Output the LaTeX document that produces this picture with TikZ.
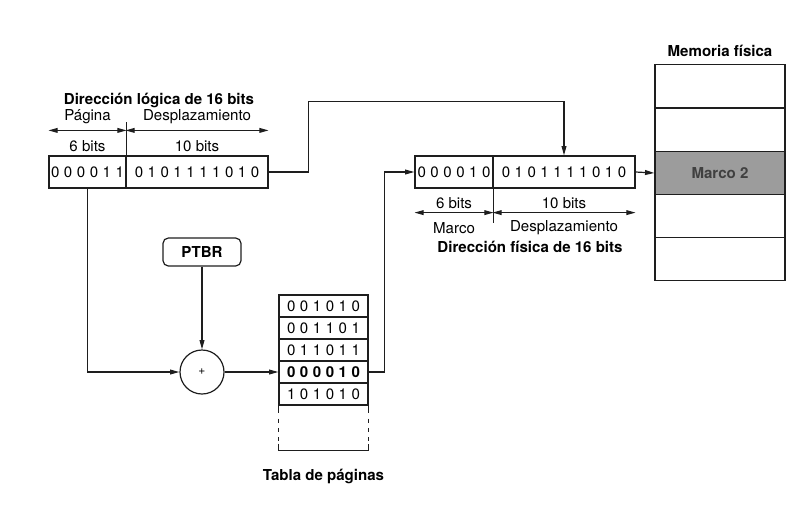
\documentclass[tikz,border=0pt]{standalone}
\usepackage{fontspec}
\setmainfont{TeX Gyre Heros}
\newfontfamily\bitfont[LetterSpace=30]{TeX Gyre Heros}
\usetikzlibrary{positioning, arrows.meta, calc}
\definecolor{inkblack}{HTML}{1E1E1E}
\definecolor{framegray}{HTML}{9C9C9C}
\tikzset{
  bit field/.style  = {rectangle, draw=inkblack, line width=0.9pt, minimum height=24pt,
                       inner sep=0pt, font=\bitfont\fontsize{11.3}{13}\selectfont},
  tab row/.style    = {bit field, minimum width=66.75pt, minimum height=16.5pt},
  mem cell/.style   = {rectangle, draw=inkblack, line width=0.9pt, minimum width=97.5pt,
                       minimum height=32.5pt, inner sep=0pt},
  title text/.style = {font=\bfseries\fontsize{11.3}{13}\selectfont},
  conn/.style       = {draw=inkblack, line width=0.9pt, -{Triangle[length=7pt, width=3.6pt]}},
  dim arrow/.style  = {draw=inkblack, line width=0.9pt,
                       {Triangle[length=7pt, width=3.6pt]}-{Triangle[length=7pt, width=3.6pt]}},
  plain line/.style = {draw=inkblack, line width=0.9pt},
}
\begin{document}
\begin{tikzpicture}[x=0.75pt, y=-0.75pt, font=\fontsize{11.3}{13}\selectfont]
\useasboundingbox (0,0) rectangle (809,512);

% =====================================================================
% Logical address
% =====================================================================
\node[title text] (ltitle) at (159,100) {Dirección lógica de 16 bits};
\node[bit field, minimum width=57.75pt]  (lpag) at (87.5,172) {000011};
\node[bit field, minimum width=106.5pt]  (ldes) at (197,172)  {0101111010};
\draw[plain line] (lpag.north east) -- ++(0,-33);

\node (lpagname) at (87.5,117) {Página};
\node (ldesname) at (197,117)  {Desplazamiento};
\draw[dim arrow] ($(lpag.north west)+(0,-25)$) -- ($(lpag.north east)+(0,-25)$);
\draw[dim arrow] ($(ldes.north west)+(0,-25)$) -- ($(ldes.north east)+(0,-25)$);
\node (lpagbits) at (87.5,146) {6 bits};
\node (ldesbits) at (197,146)  {10 bits};

% =====================================================================
% Physical address
% =====================================================================
\node[bit field, minimum width=58.5pt]  (fmar) at (454,172) {000010};
\node[bit field, minimum width=106.5pt] (fdes) at (564,172) {0101111010};
\draw[plain line] (fmar.south east) -- ++(0,34);

\node (fmarbits) at (454,203) {6 bits};
\node (fdesbits) at (564,203) {10 bits};
\draw[dim arrow] ($(fmar.south west)+(0,24)$) -- ($(fmar.south east)+(0,24)$);
\draw[dim arrow] ($(fdes.south west)+(0,24)$) -- ($(fdes.south east)+(0,24)$);
\node (fmarname) at (454,228) {Marco};
\node (fdesname) at (564,228) {Desplazamiento};
\node[title text] (ftitle) at (530,247) {Dirección física de 16 bits};

% =====================================================================
% Physical memory
% =====================================================================
\node[title text] (mtitle) at (720,51) {Memoria física};
\foreach \i/\yy in {1/86, 2/130, 4/216, 5/259} {
  \node[mem cell] (m\i) at (720,\yy) {};
}
\node[mem cell, fill=framegray, font=\bfseries\fontsize{11.3}{13}\selectfont,
      text=inkblack!85] (m3) at (720,173) {Marco 2};

% =====================================================================
% PTBR, adder and page table
% =====================================================================
\node[draw=inkblack, line width=0.9pt, rounded corners=4pt, minimum width=58.5pt,
      minimum height=21pt, title text] (ptbr) at (202,252) {PTBR};
\node[circle, draw=inkblack, line width=0.9pt, minimum size=33pt, inner sep=0pt,
      font=\small] (sum) at (202,372) {+};

\node[tab row] (t1) at (323.5,306) {001010};
\node[tab row] (t2) at (323.5,328) {001101};
\node[tab row] (t3) at (323.5,350) {011011};
\node[tab row, font=\bitfont\bfseries\fontsize{11.3}{13}\selectfont] (t4) at (323.5,372) {000010};
\node[tab row] (t5) at (323.5,394) {101010};

% open end of the table
\draw[plain line] (t5.south west) -- ++(0,7);
\draw[plain line] (t5.south east) -- ++(0,7);
\draw[plain line, dash pattern=on 3pt off 4pt] ($(t5.south west)+(0,13)$) -- ++(0,25);
\draw[plain line, dash pattern=on 3pt off 4pt] ($(t5.south east)+(0,13)$) -- ++(0,25);
\draw[plain line] ($(t5.south west)+(0,38)$) -- ++(0,7) -| ($(t5.south east)+(0,38)$);
\node[title text] (ttitle) at (323.5,476) {Tabla de páginas};

% =====================================================================
% Connectors
% =====================================================================
\draw[conn] (lpag.south) |- (sum.west);
\draw[conn] (ptbr.south) -- (sum.north);
\draw[conn] (sum.east) -- (t4.west);
\draw[conn] (t4.east) -- ++(16,0) |- (fmar.west);
\draw[conn] (ldes.east) -- ++(40,0) |- ($(fdes.north)+(0,-54)$) -- (fdes.north);
\draw[conn] (fdes.east) -- (m3.west);

\end{tikzpicture}
\end{document}
